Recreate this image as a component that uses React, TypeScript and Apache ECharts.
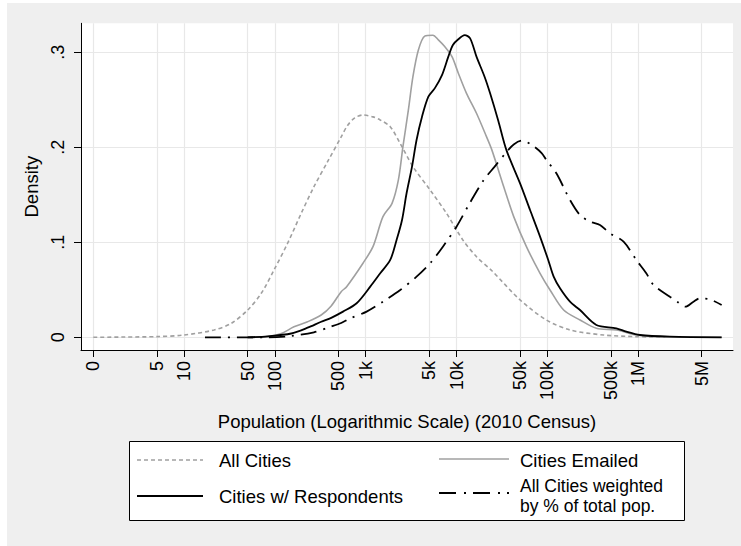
import React, { useEffect, useRef } from "react";
import * as echarts from "echarts";

// x values are log10(population); "0" tick sits at log10 position 0
const xTickLabels = ["0", "5", "10", "50", "100", "500", "1k", "5k", "10k", "50k", "100k", "500k", "1M", "5M"];
const xTickPops = [1, 5, 10, 50, 100, 500, 1e3, 5e3, 1e4, 5e4, 1e5, 5e5, 1e6, 5e6];
const yTickValues = [0, 0.1, 0.2, 0.3];
const yTickLabels = ["0", ".1", ".2", ".3"];

const allCitiesX = [0, 0.35, 0.7, 1.0, 1.33, 1.52, 1.7, 1.85, 1.99, 2.14, 2.29, 2.43, 2.58, 2.73, 2.8, 2.88, 2.97, 3.08, 3.16, 3.27, 3.38, 3.52, 3.71, 3.89, 4.07, 4.22, 4.39, 4.7, 4.99, 5.25, 5.62, 5.98, 6.3];
const allCitiesY = [0, 0.0003, 0.0007, 0.0024, 0.0077, 0.0147, 0.0287, 0.0463, 0.0708, 0.099, 0.1305, 0.1585, 0.1848, 0.211, 0.223, 0.231, 0.234, 0.232, 0.2287, 0.2217, 0.204, 0.1796, 0.155, 0.1305, 0.1024, 0.0848, 0.07, 0.0393, 0.0182, 0.0077, 0.0024, 0.0007, 0.0002];

const emailedX = [1.7, 1.92, 2.07, 2.21, 2.36, 2.51, 2.62, 2.73, 2.79, 2.97, 3.08, 3.19, 3.29, 3.36, 3.41, 3.47, 3.52, 3.58, 3.65, 3.74, 3.8, 3.87, 3.95, 4.02, 4.11, 4.22, 4.33, 4.39, 4.52, 4.63, 4.77, 4.92, 5.03, 5.18, 5.36, 5.54, 5.76, 5.98, 6.2, 6.92];
const emailedY = [0, 0.0007, 0.004, 0.011, 0.0164, 0.0235, 0.033, 0.048, 0.0533, 0.078, 0.0954, 0.127, 0.141, 0.1656, 0.2006, 0.2393, 0.2743, 0.3024, 0.317, 0.318, 0.313, 0.306, 0.2954, 0.278, 0.2568, 0.2358, 0.2112, 0.197, 0.1585, 0.127, 0.0954, 0.0674, 0.0498, 0.0287, 0.0182, 0.0095, 0.0077, 0.0024, 0.0007, 0];

const respondentsX = [1.7, 1.92, 2.18, 2.36, 2.51, 2.62, 2.75, 2.9, 3.05, 3.16, 3.27, 3.34, 3.4, 3.45, 3.51, 3.56, 3.62, 3.69, 3.76, 3.84, 3.91, 3.96, 4.02, 4.09, 4.15, 4.22, 4.31, 4.37, 4.46, 4.55, 4.7, 4.81, 4.92, 5.01, 5.07, 5.14, 5.25, 5.36, 5.54, 5.76, 5.87, 6.02, 6.35, 6.92];
const respondentsY = [0, 0.001, 0.004, 0.0101, 0.0164, 0.0205, 0.027, 0.0358, 0.0533, 0.0674, 0.0814, 0.1024, 0.1235, 0.1516, 0.1796, 0.2077, 0.2322, 0.2533, 0.262, 0.276, 0.2954, 0.3077, 0.3137, 0.318, 0.3147, 0.2954, 0.274, 0.2568, 0.228, 0.197, 0.162, 0.134, 0.106, 0.0814, 0.0638, 0.0516, 0.0375, 0.0287, 0.013, 0.0095, 0.0059, 0.0024, 0.0007, 0];

const weightedX = [1.23, 1.92, 2.18, 2.43, 2.61, 2.73, 2.83, 3.01, 3.19, 3.38, 3.56, 3.71, 3.85, 4.0, 4.15, 4.3, 4.42, 4.55, 4.63, 4.72, 4.82, 4.94, 4.99, 5.1, 5.25, 5.36, 5.47, 5.58, 5.69, 5.84, 5.98, 6.09, 6.17, 6.35, 6.43, 6.52, 6.61, 6.68, 6.79, 6.92];
const weightedY = [0, 0, 0.0014, 0.0053, 0.011, 0.015, 0.02, 0.027, 0.0375, 0.0498, 0.0638, 0.078, 0.0954, 0.1164, 0.142, 0.1656, 0.1796, 0.195, 0.203, 0.207, 0.203, 0.1937, 0.1866, 0.1726, 0.1445, 0.1287, 0.1217, 0.1182, 0.1095, 0.1006, 0.0814, 0.0674, 0.055, 0.0427, 0.0375, 0.0322, 0.0375, 0.041, 0.04, 0.034];

const seriesNames = ["All Cities", "Cities Emailed", "Cities w/ Respondents", "All Cities weighted", "by % of total pop."];

const FONT = "'Liberation Sans', Arial, sans-serif";
const GREY = "#a0a0a0";
const DASH = [4, 3];
const DASHDOT = [16, 7, 2, 7];

function pairs(xs: number[], ys: number[]) {
  return xs.map((x, i) => [x, ys[i]]);
}

export default function App() {
  const ref = useRef<HTMLDivElement>(null);
  useEffect(() => {
    if (!ref.current) return;
    const chart = echarts.init(ref.current, undefined, { renderer: "svg" });
    const xTickPos = xTickPops.map((p) => Math.log10(p));
    const findLabel = (v: number, vals: number[], labels: string[]) => {
      const i = vals.findIndex((t) => Math.abs(t - v) < 1e-6);
      return i >= 0 ? labels[i] : "";
    };
    const lineBase = { type: "line", showSymbol: false, symbol: "none", smooth: 0.3, silent: true };
    const legendText = (x: number, y: number, text: string, size: number) => ({
      type: "text", x, y,
      style: { text, fontSize: size, fontFamily: FONT, fill: "#000", verticalAlign: "middle", align: "left" },
    });
    const option: any = {
      animation: false,
      backgroundColor: "transparent",
      textStyle: { fontFamily: FONT, color: "#000" },
      grid: {
        left: 81, right: 8, top: 23.3, bottom: 196,
        show: true, backgroundColor: "#ffffff", borderWidth: 0,
      },
      xAxis: {
        type: "value",
        min: -0.1355,
        max: 7.045,
        name: "Population (Logarithmic Scale) (2010 Census)",
        nameLocation: "middle",
        nameGap: 62,
        nameTextStyle: { fontSize: 18.5, color: "#000", fontFamily: FONT },
        axisLine: { onZero: false, lineStyle: { color: "#000", width: 1 } },
        axisTick: { customValues: xTickPos, length: 7, lineStyle: { color: "#000" } },
        axisLabel: {
          customValues: xTickPos,
          rotate: 90,
          margin: 11,
          fontSize: 18,
          color: "#000",
          fontFamily: FONT,
          formatter: (v: number) => findLabel(v, xTickPos, xTickLabels),
        },
        splitLine: { show: true, lineStyle: { color: "#e8e8e8", width: 1.2 } },
      },
      yAxis: {
        type: "value",
        min: -0.01337,
        max: 0.3305,
        name: "Density",
        nameLocation: "middle",
        nameRotate: 90,
        nameGap: 31,
        nameTextStyle: { fontSize: 18.5, color: "#000", fontFamily: FONT },
        axisLine: { show: true, onZero: false, lineStyle: { color: "#000", width: 1 } },
        axisTick: { show: true, customValues: yTickValues, length: 7, lineStyle: { color: "#000" } },
        axisLabel: {
          customValues: yTickValues,
          rotate: 90,
          margin: 14,
          fontSize: 18,
          color: "#000",
          fontFamily: FONT,
          formatter: (v: number) => findLabel(v, yTickValues, yTickLabels),
        },
        splitLine: { show: true, lineStyle: { color: "#e8e8e8", width: 1.2 } },
      },
      series: [
        { ...lineBase, name: seriesNames[0], data: pairs(allCitiesX, allCitiesY), lineStyle: { color: GREY, width: 1.6, type: DASH } },
        { ...lineBase, name: seriesNames[1], data: pairs(emailedX, emailedY), lineStyle: { color: GREY, width: 1.6, type: "solid" } },
        { ...lineBase, name: seriesNames[2], data: pairs(respondentsX, respondentsY), lineStyle: { color: "#000", width: 1.8, type: "solid" } },
        { ...lineBase, name: seriesNames[3] + " " + seriesNames[4], data: pairs(weightedX, weightedY), lineStyle: { color: "#000", width: 1.8, type: DASHDOT } },
      ],
      graphic: [
        {
          type: "rect",
          shape: { x: 129.5, y: 441.5, width: 555, height: 79 },
          style: { fill: "#ffffff", stroke: "#000", lineWidth: 1 },
        },
        { type: "line", shape: { x1: 137, y1: 460, x2: 203, y2: 460 }, style: { stroke: GREY, lineWidth: 1.5, lineDash: DASH } },
        legendText(219, 460, seriesNames[0], 18.5),
        { type: "line", shape: { x1: 439, y1: 459, x2: 509, y2: 459 }, style: { stroke: GREY, lineWidth: 1.5 } },
        legendText(520, 460, seriesNames[1], 18.5),
        { type: "line", shape: { x1: 137, y1: 496, x2: 203, y2: 496 }, style: { stroke: "#000", lineWidth: 1.8 } },
        legendText(219, 496, seriesNames[2], 18.5),
        { type: "line", shape: { x1: 439, y1: 493, x2: 509, y2: 493 }, style: { stroke: "#000", lineWidth: 1.8, lineDash: [17, 8, 2, 7] } },
        legendText(520, 485.5, seriesNames[3], 17.5),
        legendText(520, 505.5, seriesNames[4], 17.5),
      ],
    };
    chart.setOption(option);
    return () => chart.dispose();
  }, []);

  return (
    <div style={{ position: "fixed", left: 0, top: 0, width: 741, height: 546, background: "#ffffff" }}>
      <div style={{ position: "absolute", left: 7, top: 3, right: 0, bottom: 0, background: "#efefef" }} />
      <div ref={ref} style={{ position: "absolute", left: 0, top: 0, width: 741, height: 546 }} />
    </div>
  );
}
